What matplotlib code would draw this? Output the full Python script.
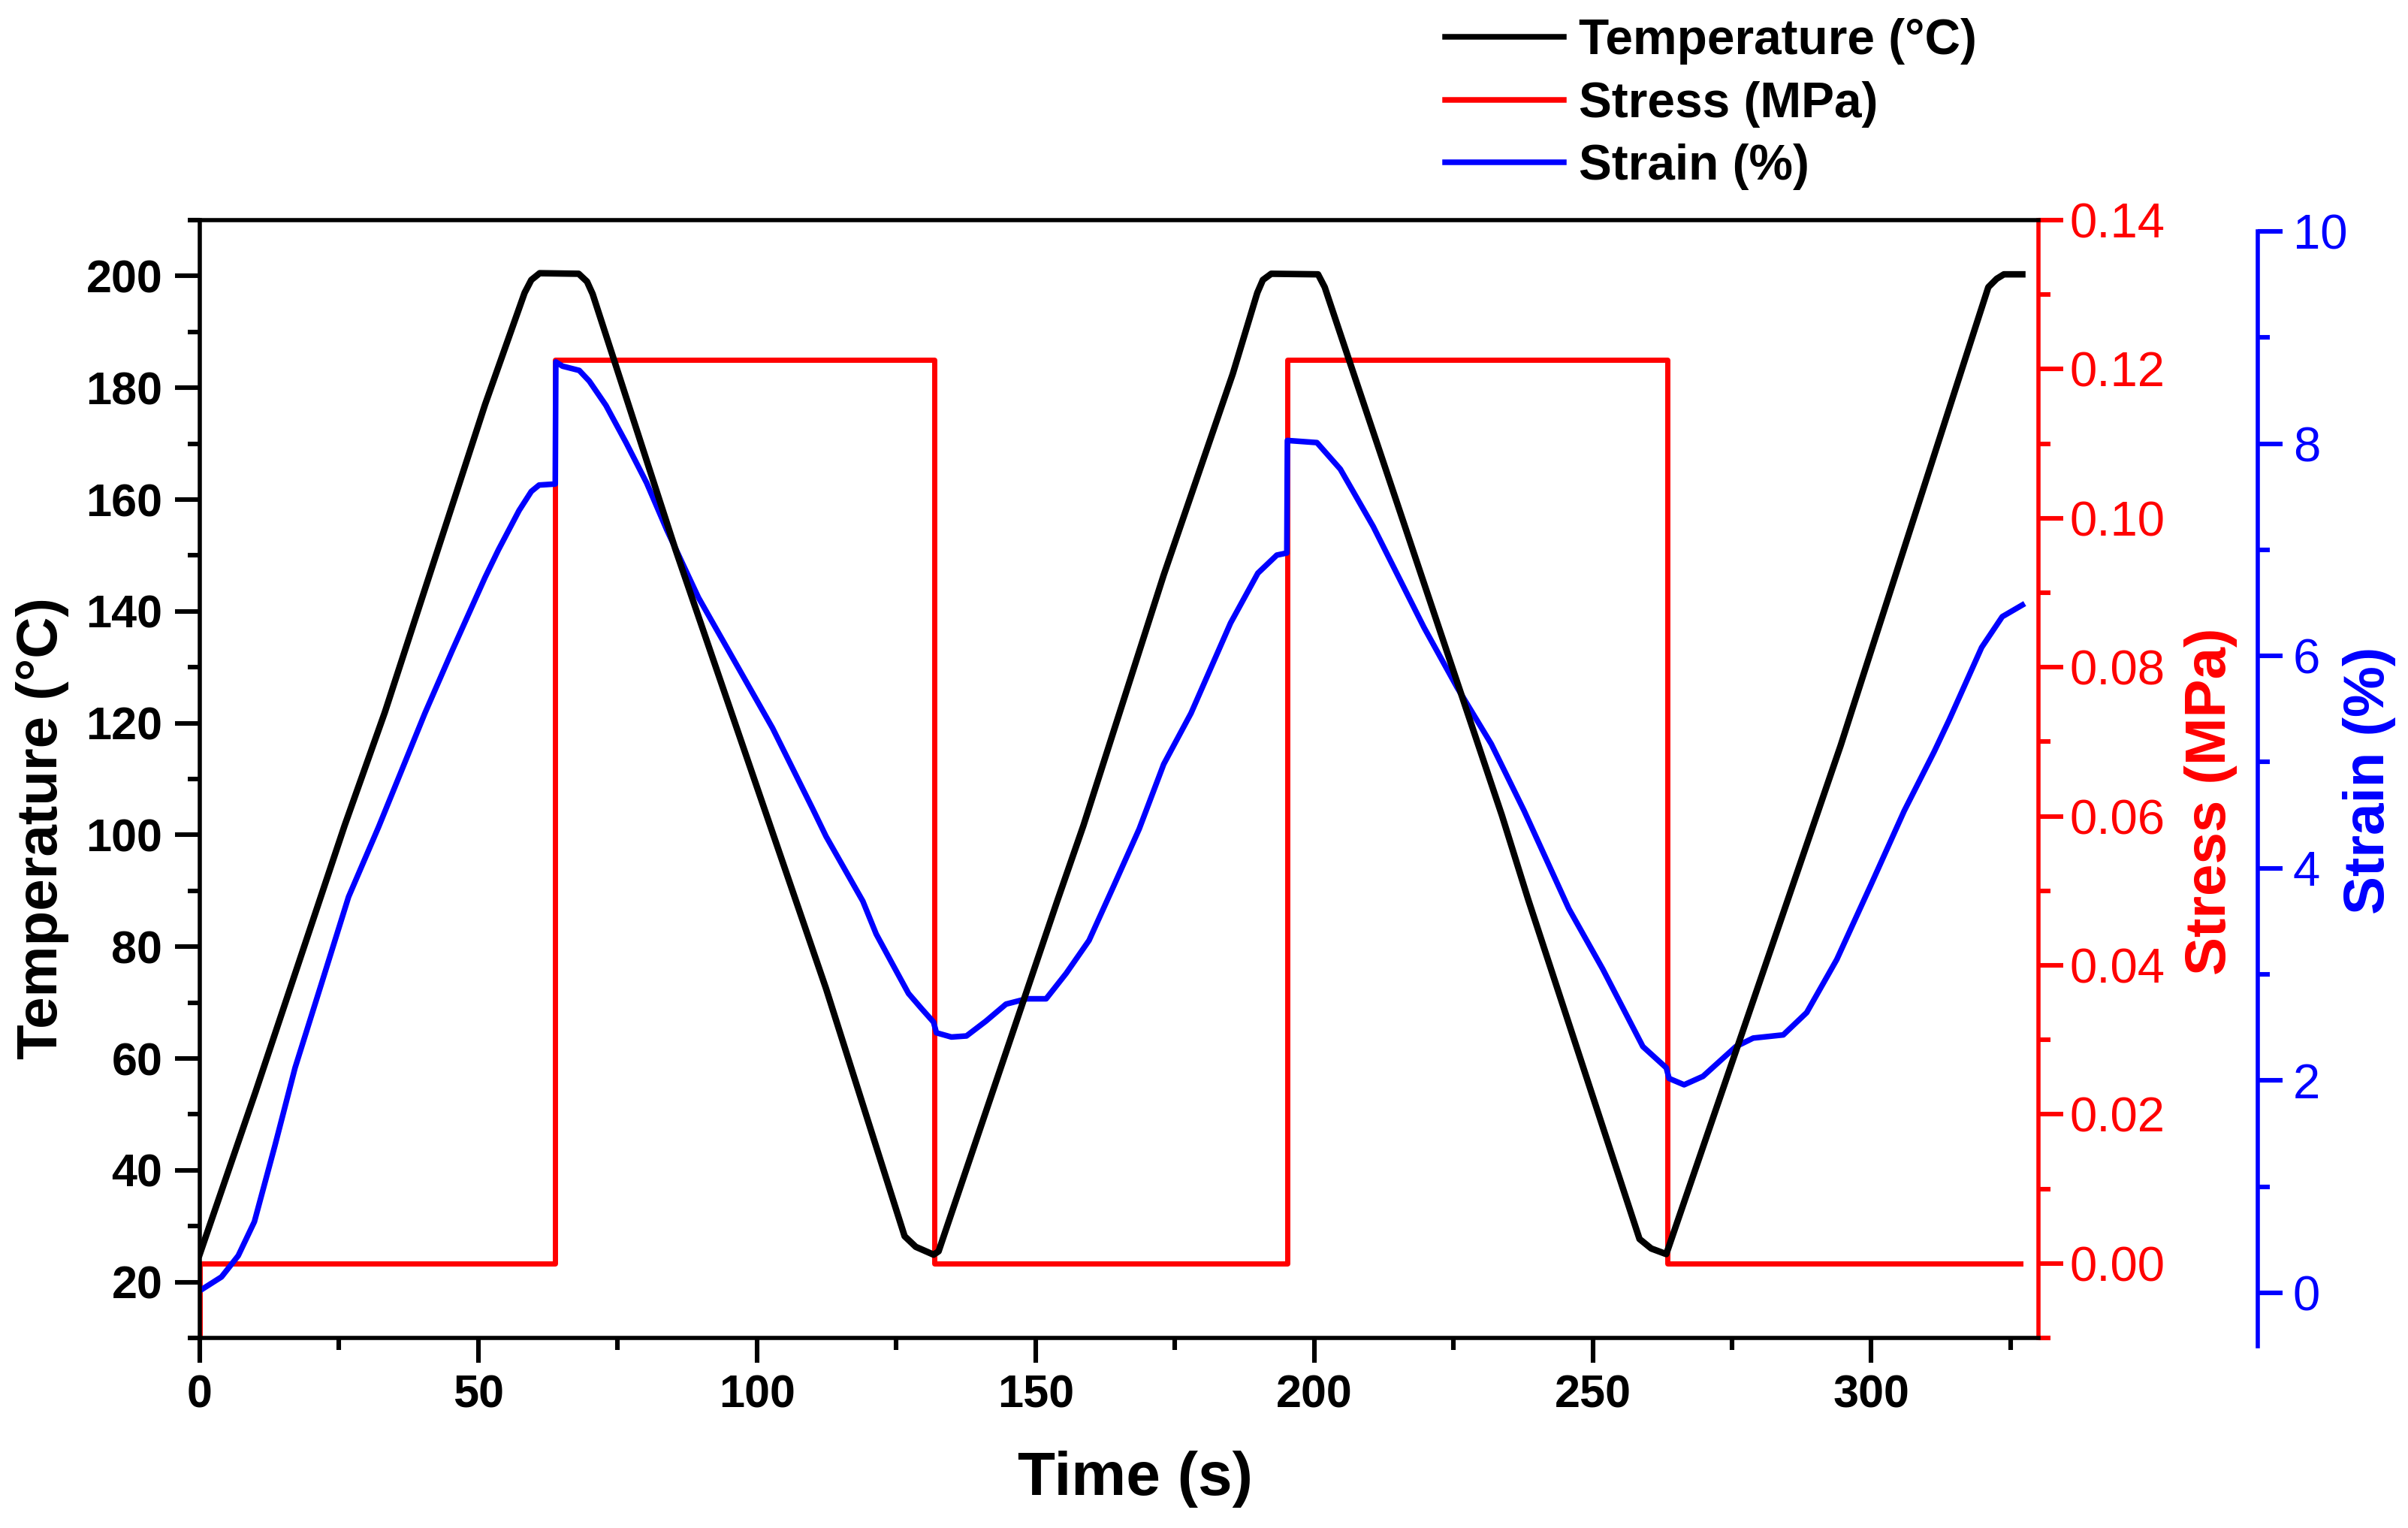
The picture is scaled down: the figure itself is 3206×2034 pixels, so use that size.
import numpy as np
import matplotlib
matplotlib.use('Agg')
import matplotlib.pyplot as plt
from matplotlib.lines import Line2D
from matplotlib.ticker import MultipleLocator

plt.rcParams['font.family'] = ['Liberation Sans', 'DejaVu Sans']

# temperature (black)
t_temp = [0, 10, 26, 33.2, 51.2, 58.3, 59.5, 61, 68, 69.5, 70.5, 85.4, 107, 112.4,
          126.5, 128.5, 131.7, 132.6, 153.9, 158.6, 173, 185.4, 189.8, 190.8, 192.3,
          200.7, 201.9, 207.1, 233.7, 238.4, 258.4, 260.5, 263.2, 278, 294.5, 296.4,
          321, 322.5, 323.8, 327.1]
temp = [25, 54, 101.7, 121.9, 177, 197, 199.3, 200.5, 200.4, 199, 196.8, 151, 88.2, 72.5,
        28.2, 26.3, 24.9, 25.5, 88.2, 101.7, 146.5, 182.5, 197, 199.3, 200.4,
        200.3, 198, 182.5, 103.5, 88.5, 27.7, 26, 25, 68, 116, 121.9,
        198, 199.5, 200.3, 200.3]

# stress (red)
t_stress = [0, 0, 63.7, 63.7, 131.8, 131.8, 195.2, 195.2, 263.4, 263.4, 326.8]
stress = [-0.02, 0, 0, 0.1213, 0.1213, 0, 0, 0.1213, 0.1213, 0, 0]

# strain (blue)
t_strain = [0, 3.9, 6.9, 9.8, 13.5, 17.1, 22, 26.7, 32.1, 40.4, 45.3, 51.2, 53.6, 57.3,
            59.5, 60.9, 63.8, 63.9, 65.1, 68.1, 69.9, 72.9, 76.5, 80.2, 83.8, 89.5,
            102.8, 110, 112.4, 119, 121.4, 124.5, 127.2, 129.5, 131.7, 132.2, 134.9,
            137.6, 141.1, 144.7, 148.4, 151.9, 155.5, 159.6, 164, 168.6, 173, 177.9,
            185, 189.9, 193.3, 195.1, 195.2, 200.5, 204.7, 210.6, 219.7, 225.7, 231.8,
            237.7, 245.7, 251.8, 259, 263.2, 263.7, 266.4, 269.8, 275.7, 278.8, 284.2,
            288.4, 293.8, 299.9, 305.9, 311.3, 314, 319.8, 323.5, 327.1]
strain = [0.02, 0.15, 0.35, 0.67, 1.39, 2.12, 2.94, 3.73, 4.39, 5.46, 6.05, 6.74, 7.0, 7.37,
          7.55, 7.61, 7.62, 8.77, 8.73, 8.69, 8.59, 8.36, 8.01, 7.63, 7.19, 6.55,
          5.32, 4.56, 4.30, 3.69, 3.38, 3.08, 2.82, 2.68, 2.55, 2.45, 2.41,
          2.42, 2.56, 2.72, 2.77, 2.77, 3.01, 3.32, 3.83, 4.37, 4.98, 5.46,
          6.31, 6.78, 6.95, 6.97, 8.03, 8.01, 7.76, 7.22, 6.27, 5.70, 5.17,
          4.54, 3.62, 3.05, 2.32, 2.12, 2.02, 1.96, 2.04, 2.32, 2.40, 2.43,
          2.64, 3.14, 3.84, 4.54, 5.10, 5.40, 6.08, 6.37, 6.48]

fig = plt.figure(figsize=(3206 / 200, 2034 / 200), dpi=200)
ax = fig.add_axes([266 / 3206, 253 / 2034, 2448 / 3206, 1488 / 2034])
ax2 = ax.twinx()
ax3 = ax.twinx()

ax2.set_zorder(1)
ax3.set_zorder(2)
ax.set_zorder(3)
ax.patch.set_visible(False)

lw_sp = 2.0
ln1, = ax.plot(t_temp, temp, color='black', lw=3.1, solid_joinstyle='round')
ln2, = ax2.plot(t_stress, stress, color='red', lw=2.5)
ln3, = ax3.plot(t_strain, strain, color='blue', lw=2.7, solid_joinstyle='round')

ax.set_xlim(0, 330)
ax.set_ylim(10, 210)
ax2.set_ylim(-0.01, 0.14)
ax3.set_ylim(-0.425, 10.106)

# main axis
for s in ['left', 'bottom', 'top']:
    ax.spines[s].set_linewidth(lw_sp)
ax.spines['right'].set_visible(False)
ax.xaxis.set_major_locator(MultipleLocator(50))
ax.xaxis.set_minor_locator(MultipleLocator(25))
ax.yaxis.set_major_locator(MultipleLocator(20))
ax.yaxis.set_minor_locator(MultipleLocator(10))
ax.tick_params(axis='both', which='major', direction='out', length=11.9, width=2.2,
               labelsize=22)
ax.tick_params(axis='both', which='minor', direction='out', length=5.8, width=2.2)
ax.tick_params(axis='x', which='both', top=False, pad=5.4)
ax.tick_params(axis='y', which='both', right=False, pad=6)
for lab in ax.get_xticklabels() + ax.get_yticklabels():
    lab.set_fontweight('bold')

ax.set_xlabel('Time (s)', fontsize=29.5, fontweight='bold', va='center')
ax.xaxis.set_label_coords(0.5086, -0.1263)
ax.set_ylabel('Temperature (°C)', fontsize=27.5, fontweight='bold', va='center')
ax.yaxis.set_label_coords(-0.0854, 0.456)

# stress axis
for s in ['left', 'top', 'bottom']:
    ax2.spines[s].set_visible(False)
ax2.spines['right'].set_color('red')
ax2.spines['right'].set_linewidth(lw_sp)
ax2.yaxis.set_major_locator(MultipleLocator(0.02))
ax2.yaxis.set_minor_locator(MultipleLocator(0.01))
ax2.yaxis.set_major_formatter(plt.FormatStrFormatter('%.2f'))
ax2.tick_params(axis='y', which='major', direction='out', length=11.9, width=2.2,
                colors='red', labelsize=23.5, pad=3)
ax2.tick_params(axis='y', which='minor', direction='out', length=5.8, width=2.2, colors='red')
ax2.set_ylabel('Stress (MPa)', fontsize=27.5, fontweight='bold', color='red', va='center')
ax2.yaxis.set_label_coords(1.0936, 0.48)

# strain axis
for s in ['left', 'top', 'bottom']:
    ax3.spines[s].set_visible(False)
ax3.spines['right'].set_position(('axes', 1.1193))
ax3.spines['right'].set_color('blue')
ax3.spines['right'].set_linewidth(lw_sp)
ax3.spines['right'].set_bounds(-0.5, 10)
ax3.yaxis.set_major_locator(MultipleLocator(2))
ax3.yaxis.set_minor_locator(MultipleLocator(1))
ax3.tick_params(axis='y', which='major', direction='out', length=11.9, width=2.2,
                colors='blue', labelsize=23.5, pad=5)
ax3.tick_params(axis='y', which='minor', direction='out', length=5.8, width=2.2, colors='blue')
ax3.set_ylabel('Strain (%)', fontsize=27.5, fontweight='bold', color='blue', va='center')
ax3.yaxis.set_label_coords(1.180, 0.499)

handles = [Line2D([], [], color='black', lw=2.7),
           Line2D([], [], color='red', lw=2.7),
           Line2D([], [], color='blue', lw=2.7)]
labels = ['Temperature (°C)', 'Stress (MPa)', 'Strain (%)']
fig.legend(handles, labels, loc='upper left', bbox_to_anchor=(1924 / 3206, 1 - 24 / 2034),
           frameon=False, prop={'size': 23.7, 'weight': 'bold'}, handlelength=2.4,
           handletextpad=0.3, labelspacing=0.33, borderpad=0, borderaxespad=0)

fig.savefig('out.png', dpi=200)
